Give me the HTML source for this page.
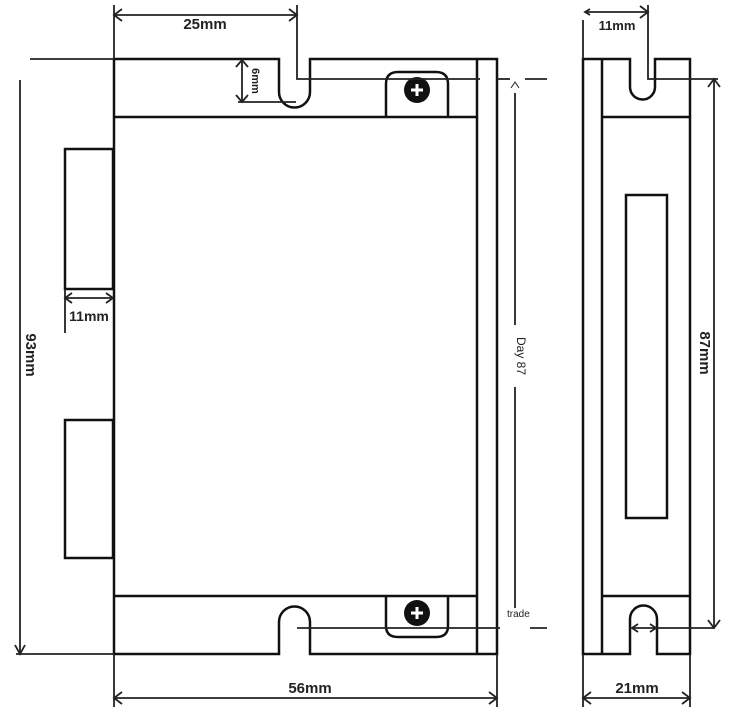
<!DOCTYPE html>
<html><head><meta charset="utf-8"><style>
html,body{margin:0;padding:0;background:#fff;}
svg{display:block;}
text{font-family:"Liberation Sans",sans-serif;fill:#222;}
</style></head><body>
<svg width="735" height="717" viewBox="0 0 735 717" xmlns="http://www.w3.org/2000/svg">
<g fill="none" stroke="#111" stroke-width="2.5">
  <!-- main body outline with slots -->
  <path d="M114 59 H279 V92 A15.5 15.5 0 0 0 310 92 V59 H497 V654 H310 V622 A15.5 15.5 0 0 0 279 622 V654 H114 Z"/>
  <line x1="477" y1="59" x2="477" y2="654"/>
  <line x1="114" y1="117" x2="477" y2="117"/>
  <line x1="114" y1="596" x2="477" y2="596"/>
  <!-- screw brackets -->
  <path d="M386 117 V84 Q386 72 398 72 H436 Q448 72 448 84 V117"/>
  <path d="M386 596 V626 Q386 637 398 637 H436 Q448 637 448 626 V596"/>
  <!-- connectors -->
  <rect x="65" y="149" width="48" height="140"/>
  <rect x="65" y="420" width="48" height="138"/>
  <!-- side view -->
  <path d="M583 59 H630 V87 A12.5 12.5 0 0 0 655 87 V59 H690 V654 H657 V619 A13.5 13.5 0 0 0 630 619 V654 H583 Z"/>
  <line x1="602" y1="59" x2="602" y2="654"/>
  <line x1="602" y1="117" x2="690" y2="117"/>
  <line x1="602" y1="596" x2="690" y2="596"/>
  <rect x="626" y="195" width="41" height="323"/>
</g>
<!-- screws -->
<circle cx="417" cy="90" r="13" fill="#111"/>
<path d="M411 90 H423 M417 84 V96" stroke="#fff" stroke-width="3"/>
<circle cx="417" cy="613" r="13" fill="#111"/>
<path d="M411 613 H423 M417 607 V619" stroke="#fff" stroke-width="3"/>
<g fill="none" stroke="#222" stroke-width="1.8">
  <!-- 25mm -->
  <line x1="114" y1="5" x2="114" y2="59"/>
  <line x1="114" y1="15" x2="297" y2="15"/>
  <path d="M122 9 L114 15 L122 21 M289 9 L297 15 L289 21"/>
  <path d="M297 5 V79 H480"/>
  <line x1="497" y1="79" x2="510" y2="79"/>
  <line x1="525" y1="79" x2="547" y2="79"/>
  <!-- 6mm -->
  <line x1="242" y1="60" x2="242" y2="102"/>
  <line x1="238" y1="102" x2="296" y2="102"/>
  <path d="M236 67 L242 60 L248 67 M236 95 L242 102 L248 95"/>
  <!-- 93mm -->
  <line x1="30" y1="59" x2="114" y2="59"/>
  <line x1="20" y1="80" x2="20" y2="654"/>
  <path d="M15 645 L20 654 L25 645"/>
  <line x1="16" y1="654" x2="114" y2="654"/>
  <!-- 11mm left -->
  <line x1="65" y1="289" x2="65" y2="333"/>
  <line x1="65" y1="298" x2="113" y2="298"/>
  <path d="M72 293 L65 298 L72 303 M106 293 L113 298 L106 303"/>
  <!-- Day 87 -->
  <line x1="515" y1="93" x2="515" y2="325"/>
  <line x1="515" y1="387" x2="515" y2="608"/>
  <path d="M511 88 L515 82 L519 88" stroke-width="1"/>
  <!-- bottom dim line -->
  <line x1="297" y1="628" x2="500" y2="628"/>
  <line x1="530" y1="628" x2="547" y2="628"/>
  <!-- 56mm -->
  <line x1="497" y1="654" x2="497" y2="707"/>
  <line x1="114" y1="654" x2="114" y2="707"/>
  <line x1="114" y1="698" x2="497" y2="698"/>
  <path d="M489 692 L497 698 L489 704 M122 692 L114 698 L122 704"/>
  <!-- 21mm -->
  <line x1="583" y1="654" x2="583" y2="707"/>
  <line x1="690" y1="654" x2="690" y2="707"/>
  <line x1="583" y1="698" x2="690" y2="698"/>
  <path d="M591 692 L583 698 L591 704 M682 692 L690 698 L682 704"/>
  <!-- 11mm side -->
  <line x1="583" y1="20" x2="583" y2="59"/>
  <line x1="585" y1="12" x2="648" y2="12"/>
  <path d="M640 6 L648 12 L640 18 M590 9 L585 12 L590 15" />
  <path d="M648 5 V79 H718"/>
  <!-- 87mm -->
  <line x1="714" y1="79" x2="714" y2="628"/>
  <path d="M708 87 L714 79 L720 87 M708 620 L714 628 L720 620"/>
  <line x1="632" y1="628" x2="714" y2="628"/>
  <path d="M638 624 L632 628 L638 632 M650 624 L656 628 L650 632"/>
</g>
<text x="205" y="29" font-size="15" font-weight="bold" text-anchor="middle">25mm</text>
<text transform="translate(252,81) rotate(90)" font-size="11" font-weight="bold" text-anchor="middle">6mm</text>
<text x="89" y="321" font-size="14" font-weight="bold" text-anchor="middle">11mm</text>
<text transform="translate(26,355) rotate(90)" font-size="15" font-weight="bold" text-anchor="middle">93mm</text>
<text transform="translate(517,356) rotate(90)" font-size="12" text-anchor="middle">Day 87</text>
<text x="507" y="617" font-size="10">trade</text>
<text x="310" y="693" font-size="15" font-weight="bold" text-anchor="middle">56mm</text>
<text x="637" y="693" font-size="15" font-weight="bold" text-anchor="middle">21mm</text>
<text x="617" y="30" font-size="13" font-weight="bold" text-anchor="middle">11mm</text>
<text transform="translate(700,353) rotate(90)" font-size="15" font-weight="bold" text-anchor="middle">87mm</text>
</svg>
</body></html>
